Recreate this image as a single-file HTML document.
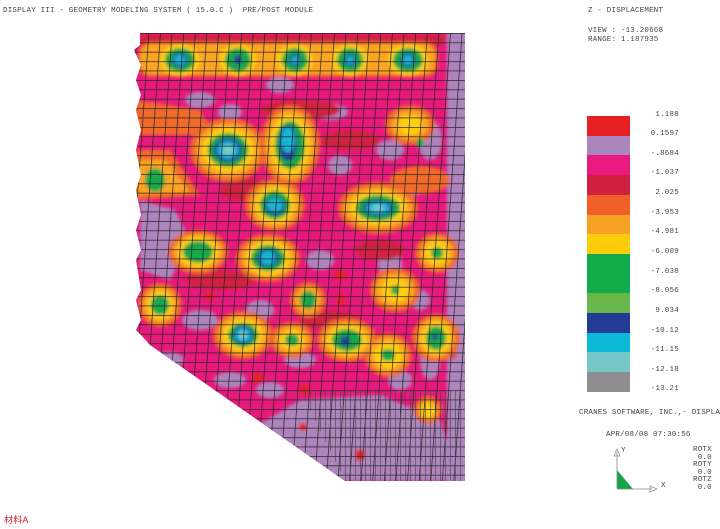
<!DOCTYPE html>
<html><head><meta charset="utf-8"><style>
html,body{margin:0;padding:0;background:#fff;}
body{width:720px;height:529px;position:relative;overflow:hidden;font-family:"Liberation Mono",monospace;}
.t{position:absolute;font-size:7.5px;color:#444;white-space:pre;letter-spacing:0.2px;}
</style></head><body>
<svg width="720" height="529" style="position:absolute;left:0;top:0">
<defs>
<clipPath id="m"><polygon points="140,33 465,33 465,481 345,481 150,345 141,335 136,330 141,320 136,300 141,290 136,260 141,250 136,230 141,215 136,190 141,175 136,150 141,130 136,110 141,95 136,80 141,65 134,50 140,45"/></clipPath>
<pattern id="h" width="10" height="9.4" patternUnits="userSpaceOnUse" y="33"><line x1="0" y1="0.3" x2="10" y2="0.3" stroke="#222" stroke-width="0.8"/></pattern>
<pattern id="v" width="11.6" height="10" patternUnits="userSpaceOnUse" patternTransform="skewX(-4)"><line x1="0.3" y1="0" x2="0.3" y2="10" stroke="#222" stroke-width="0.8"/></pattern>
<pattern id="v2" width="5" height="10" patternUnits="userSpaceOnUse"><line x1="0.3" y1="0" x2="0.3" y2="10" stroke="#444" stroke-width="0.6"/></pattern>
<filter id="b"><feGaussianBlur stdDeviation="1.5"/></filter>
</defs>
<g clip-path="url(#m)">
<rect x="130" y="30" width="340" height="455" fill="#e8197d"/>
<g filter="url(#b)">
<g fill="#ae84bd">
<rect x="447" y="30" width="25" height="460"/>
<polygon points="140,200 175,210 190,240 170,280 140,270"/>
<polygon points="300,400 380,395 440,420 460,481 330,481 250,430"/>
<ellipse cx="330" cy="112" rx="18" ry="8"/><ellipse cx="390" cy="150" rx="14" ry="10"/>
<ellipse cx="410" cy="185" rx="14" ry="12"/><ellipse cx="200" cy="100" rx="15" ry="8"/>
<ellipse cx="340" cy="165" rx="12" ry="10"/><ellipse cx="320" cy="260" rx="14" ry="10"/>
<ellipse cx="390" cy="265" rx="12" ry="14"/><ellipse cx="420" cy="300" rx="10" ry="10"/>
<ellipse cx="200" cy="320" rx="18" ry="10"/><ellipse cx="260" cy="310" rx="14" ry="10"/>
<ellipse cx="300" cy="360" rx="16" ry="8"/><ellipse cx="170" cy="360" rx="14" ry="8"/>
<ellipse cx="230" cy="380" rx="16" ry="8"/><ellipse cx="270" cy="390" rx="14" ry="8"/>
<ellipse cx="400" cy="380" rx="12" ry="10"/><ellipse cx="430" cy="140" rx="12" ry="20"/>
<ellipse cx="280" cy="85" rx="14" ry="8"/><ellipse cx="230" cy="112" rx="12" ry="8"/>
<ellipse cx="430" cy="360" rx="10" ry="20"/><ellipse cx="330" cy="430" rx="30" ry="20"/>
</g>
<g fill="#d0203f">
<rect x="140" y="35" width="305" height="10"/>
<ellipse cx="300" cy="110" rx="40" ry="10"/><ellipse cx="250" cy="190" rx="30" ry="12"/>
<ellipse cx="220" cy="280" rx="35" ry="10"/><ellipse cx="330" cy="320" rx="30" ry="10"/>
<ellipse cx="380" cy="250" rx="25" ry="10"/><ellipse cx="350" cy="140" rx="30" ry="10"/>
</g>
<g fill="#e82020"><ellipse cx="340" cy="275" rx="6" ry="5"/><ellipse cx="258" cy="378" rx="6" ry="5"/><ellipse cx="305" cy="390" rx="5" ry="5"/><ellipse cx="210" cy="296" rx="5" ry="4"/><ellipse cx="341" cy="300" rx="4" ry="6"/><ellipse cx="303" cy="427" rx="4" ry="4"/><ellipse cx="360" cy="455" rx="5" ry="6"/><ellipse cx="453" cy="355" rx="3" ry="4"/></g>
<g fill="#f26a2a">
<rect x="138" y="42" width="300" height="35" rx="12"/>
<polygon points="136,100 200,110 215,135 136,135"/>
<polygon points="136,150 170,150 200,195 136,200"/>
<ellipse cx="228" cy="150" rx="38" ry="32"/><ellipse cx="290" cy="145" rx="30" ry="40"/>
<ellipse cx="275" cy="205" rx="30" ry="26"/><ellipse cx="378" cy="208" rx="40" ry="26"/>
<ellipse cx="198" cy="252" rx="30" ry="22"/><ellipse cx="268" cy="258" rx="32" ry="24"/>
<ellipse cx="160" cy="305" rx="22" ry="22"/><ellipse cx="243" cy="335" rx="30" ry="24"/>
<ellipse cx="347" cy="340" rx="30" ry="22"/><ellipse cx="436" cy="338" rx="24" ry="24"/>
<ellipse cx="292" cy="340" rx="22" ry="18"/><ellipse cx="437" cy="253" rx="22" ry="20"/>
<ellipse cx="308" cy="300" rx="18" ry="18"/><ellipse cx="388" cy="355" rx="24" ry="22"/>
<ellipse cx="395" cy="290" rx="25" ry="22"/><ellipse cx="410" cy="125" rx="25" ry="20"/>
<ellipse cx="160" cy="175" rx="20" ry="20"/><ellipse cx="428" cy="410" rx="14" ry="14"/>
<ellipse cx="420" cy="180" rx="30" ry="14"/>
</g>
<g fill="#fba424">
<rect x="140" y="44" width="295" height="30" rx="12"/>
<polygon points="136,160 165,160 190,192 136,195"/>
<ellipse cx="228" cy="150" rx="32" ry="27"/><ellipse cx="290" cy="145" rx="25" ry="35"/>
<ellipse cx="275" cy="205" rx="25" ry="22"/><ellipse cx="378" cy="208" rx="34" ry="21"/>
<ellipse cx="198" cy="252" rx="25" ry="18"/><ellipse cx="268" cy="258" rx="27" ry="20"/>
<ellipse cx="160" cy="305" rx="17" ry="18"/><ellipse cx="243" cy="335" rx="25" ry="20"/>
<ellipse cx="347" cy="340" rx="25" ry="18"/><ellipse cx="436" cy="338" rx="19" ry="20"/>
<ellipse cx="292" cy="340" rx="17" ry="14"/><ellipse cx="437" cy="253" rx="17" ry="16"/>
<ellipse cx="308" cy="300" rx="13" ry="14"/><ellipse cx="388" cy="355" rx="19" ry="18"/>
<ellipse cx="395" cy="290" rx="20" ry="17"/><ellipse cx="410" cy="125" rx="19" ry="15"/>
<ellipse cx="160" cy="175" rx="15" ry="15"/><ellipse cx="428" cy="410" rx="10" ry="10"/>
</g>
<g fill="#fecf0c">
<ellipse cx="228" cy="150" rx="26" ry="22"/><ellipse cx="290" cy="145" rx="20" ry="30"/>
<ellipse cx="275" cy="205" rx="20" ry="18"/><ellipse cx="378" cy="208" rx="28" ry="17"/>
<ellipse cx="198" cy="252" rx="20" ry="15"/><ellipse cx="268" cy="258" rx="22" ry="17"/>
<ellipse cx="160" cy="305" rx="13" ry="14"/><ellipse cx="243" cy="335" rx="20" ry="16"/>
<ellipse cx="347" cy="340" rx="20" ry="15"/><ellipse cx="436" cy="338" rx="15" ry="16"/>
<ellipse cx="292" cy="340" rx="12" ry="10"/><ellipse cx="437" cy="253" rx="12" ry="12"/>
<ellipse cx="388" cy="355" rx="14" ry="13"/><ellipse cx="395" cy="290" rx="14" ry="12"/>
<ellipse cx="410" cy="125" rx="12" ry="10"/><ellipse cx="428" cy="410" rx="7" ry="7"/>
<ellipse cx="180" cy="60" rx="20" ry="16"/><ellipse cx="238" cy="60" rx="18" ry="16"/><ellipse cx="295" cy="60" rx="18" ry="16"/><ellipse cx="350" cy="60" rx="18" ry="16"/><ellipse cx="408" cy="60" rx="20" ry="16"/>
</g>
<g fill="#12a84a">
<ellipse cx="180" cy="60" rx="15" ry="12"/><ellipse cx="238" cy="60" rx="13" ry="12"/><ellipse cx="295" cy="60" rx="13" ry="12"/><ellipse cx="350" cy="60" rx="13" ry="12"/><ellipse cx="408" cy="60" rx="15" ry="12"/>
<ellipse cx="228" cy="150" rx="20" ry="17"/><ellipse cx="290" cy="145" rx="15" ry="24"/>
<ellipse cx="275" cy="205" rx="15" ry="14"/><ellipse cx="378" cy="208" rx="22" ry="13"/>
<ellipse cx="198" cy="252" rx="15" ry="11"/><ellipse cx="268" cy="258" rx="17" ry="13"/>
<ellipse cx="160" cy="305" rx="9" ry="10"/><ellipse cx="243" cy="335" rx="15" ry="12"/>
<ellipse cx="347" cy="340" rx="15" ry="11"/><ellipse cx="436" cy="338" rx="10" ry="12"/>
<ellipse cx="292" cy="340" rx="7" ry="6"/><ellipse cx="437" cy="253" rx="6" ry="6"/>
<ellipse cx="308" cy="300" rx="8" ry="9"/><ellipse cx="388" cy="355" rx="7" ry="6"/>
<ellipse cx="395" cy="290" rx="4" ry="5"/><ellipse cx="155" cy="180" rx="10" ry="12"/><ellipse cx="420" cy="143" rx="4" ry="5"/>
</g>
<g fill="#22409a">
<ellipse cx="180" cy="60" rx="8" ry="7"/><ellipse cx="238" cy="60" rx="4" ry="5"/><ellipse cx="295" cy="60" rx="6" ry="6"/><ellipse cx="350" cy="60" rx="6" ry="6"/><ellipse cx="408" cy="60" rx="7" ry="7"/>
<ellipse cx="228" cy="150" rx="14" ry="12"/><ellipse cx="288" cy="143" rx="9" ry="18"/>
<ellipse cx="275" cy="206" rx="10" ry="9"/><ellipse cx="378" cy="208" rx="15" ry="8"/>
<ellipse cx="268" cy="258" rx="11" ry="9"/><ellipse cx="243" cy="335" rx="10" ry="9"/>
<ellipse cx="345" cy="341" rx="5" ry="5"/><ellipse cx="435" cy="337" rx="3" ry="3"/>
</g>
<g fill="#12b5d6">
<ellipse cx="180" cy="60" rx="6" ry="5"/><ellipse cx="295" cy="60" rx="4" ry="4"/><ellipse cx="350" cy="60" rx="4" ry="4"/><ellipse cx="408" cy="60" rx="5" ry="5"/>
<ellipse cx="228" cy="150" rx="11" ry="9"/><ellipse cx="288" cy="140" rx="7" ry="13"/>
<ellipse cx="275" cy="205" rx="8" ry="7"/><ellipse cx="378" cy="208" rx="12" ry="6"/>
<ellipse cx="268" cy="258" rx="8" ry="7"/><ellipse cx="243" cy="335" rx="8" ry="7"/>
</g>
<g fill="#76cccb"><ellipse cx="228" cy="150" rx="6" ry="5"/><ellipse cx="378" cy="208" rx="6" ry="3"/><ellipse cx="243" cy="335" rx="4" ry="4"/></g>
</g>
<rect x="130" y="30" width="340" height="455" fill="url(#h)"/>
<rect x="130" y="30" width="340" height="455" fill="url(#v)"/>
<polygon points="300,390 465,390 465,481 345,481" fill="url(#v2)"/>
</g>
<g>
<rect x="587" y="116" width="43" height="20" fill="#e82024"/>
<rect x="587" y="136" width="43" height="19" fill="#ab85bd"/>
<rect x="587" y="155" width="43" height="20" fill="#e9197f"/>
<rect x="587" y="175" width="43" height="20" fill="#cd213f"/>
<rect x="587" y="195" width="43" height="20" fill="#ef5f27"/>
<rect x="587" y="215" width="43" height="19" fill="#f8a023"/>
<rect x="587" y="234" width="43" height="20" fill="#fdcc0b"/>
<rect x="587" y="254" width="43" height="39" fill="#12ac4c"/>
<rect x="587" y="293" width="43" height="20" fill="#67b74b"/>
<rect x="587" y="313" width="43" height="20" fill="#223b94"/>
<rect x="587" y="333" width="43" height="19" fill="#0bb9d6"/>
<rect x="587" y="352" width="43" height="20" fill="#76c7c7"/>
<rect x="587" y="372" width="43" height="20" fill="#8e8e90"/>
</g>
<polygon points="617,470 617,489 633,489" fill="#15a24a"/>
<line x1="617" y1="452" x2="617" y2="489" stroke="#888" stroke-width="0.8"/>
<line x1="617" y1="489" x2="652" y2="489" stroke="#888" stroke-width="0.8"/>
<polygon points="614,456 617,449 620,456" fill="none" stroke="#888" stroke-width="0.7"/>
<polygon points="650,486 657,489 650,492" fill="none" stroke="#888" stroke-width="0.7"/>
</svg>
<div class="t" style="left:3px;top:7px">DISPLAY III - GEOMETRY MODELING SYSTEM ( 15.0.C )  PRE/POST MODULE</div>
<div class="t" style="left:588px;top:7px">Z - DISPLACEMENT</div>
<div class="t" style="left:588px;top:27px">VIEW : -13.20668</div>
<div class="t" style="left:588px;top:36px">RANGE: 1.187935</div>
<div class="t" style="left:646px;top:111px">  1.188</div>
<div class="t" style="left:646px;top:130px"> 0.1597</div>
<div class="t" style="left:646px;top:150px"> -.8684</div>
<div class="t" style="left:646px;top:169px"> -1.037</div>
<div class="t" style="left:646px;top:189px">  2.025</div>
<div class="t" style="left:646px;top:209px"> -3.953</div>
<div class="t" style="left:646px;top:228px"> -4.981</div>
<div class="t" style="left:646px;top:248px"> -6.009</div>
<div class="t" style="left:646px;top:268px"> -7.038</div>
<div class="t" style="left:646px;top:287px"> -8.056</div>
<div class="t" style="left:646px;top:307px">  9.034</div>
<div class="t" style="left:646px;top:327px"> -10.12</div>
<div class="t" style="left:646px;top:346px"> -11.15</div>
<div class="t" style="left:646px;top:366px"> -12.18</div>
<div class="t" style="left:646px;top:385px"> -13.21</div>
<div class="t" style="left:579px;top:409px">CRANES SOFTWARE, INC.,- DISPLAY</div>
<div class="t" style="left:606px;top:431px">APR/08/08 07:30:56</div>
<div class="t" style="left:621px;top:447px">Y</div>
<div class="t" style="left:661px;top:482px">X</div>
<div class="t" style="left:693px;top:447px;line-height:7.5px">ROTX<br> 0.0<br>ROTY<br> 0.0<br>ROTZ<br> 0.0</div>
<div class="t" style="left:4px;top:513px;color:#d02020;font-family:'Liberation Sans','Noto Sans CJK SC',sans-serif;font-size:9px">材料A</div>
</body></html>
